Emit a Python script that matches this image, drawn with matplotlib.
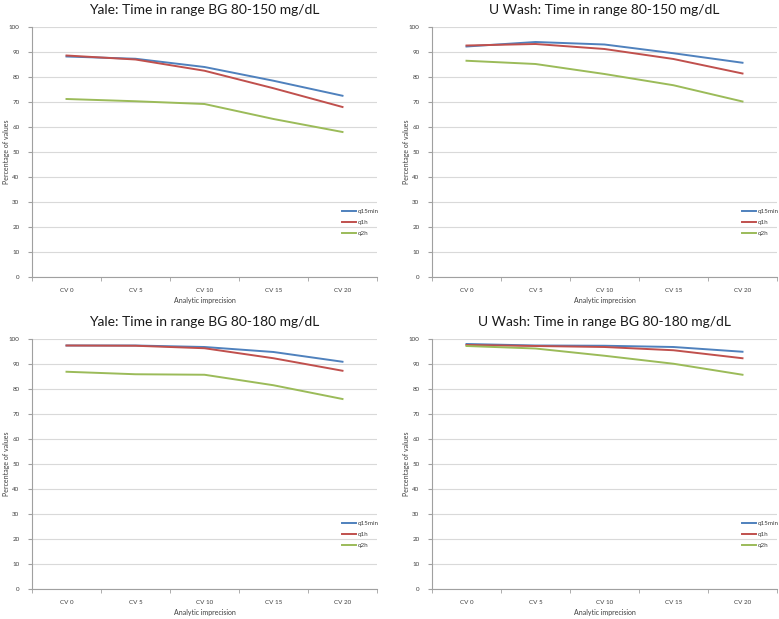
import matplotlib.pyplot as plt
import numpy as np

plt.rcParams['font.family'] = ['Lato', 'DejaVu Sans']

categories = ["CV 0", "CV 5", "CV 10", "CV 15", "CV 20"]
series_names = ["q15min", "q1h", "q2h"]
colors = ["#4F81BD", "#C0504D", "#9BBB59"]

titles = [
    "Yale: Time in range BG 80-150 mg/dL",
    "U Wash: Time in range 80-150 mg/dL",
    "Yale: Time in range BG 80-180 mg/dL",
    "U Wash: Time in range BG 80-180 mg/dL",
]

# Yale, 80-150
yale_150_q15min = [88.2, 87.3, 84.0, 78.5, 72.5]
yale_150_q1h = [88.6, 87.0, 82.5, 75.5, 68.0]
yale_150_q2h = [71.2, 70.3, 69.2, 63.2, 58.0]

# U Wash, 80-150
uwash_150_q15min = [92.2, 94.0, 93.0, 89.5, 85.7]
uwash_150_q1h = [92.6, 93.2, 91.2, 87.2, 81.4]
uwash_150_q2h = [86.5, 85.2, 81.2, 76.7, 70.2]

# Yale, 80-180
yale_180_q15min = [97.4, 97.4, 96.8, 94.8, 90.9]
yale_180_q1h = [97.4, 97.3, 96.3, 92.3, 87.3]
yale_180_q2h = [86.9, 85.9, 85.7, 81.5, 76.0]

# U Wash, 80-180
uwash_180_q15min = [98.0, 97.4, 97.3, 96.8, 94.9]
uwash_180_q1h = [97.6, 97.2, 96.8, 95.5, 92.3]
uwash_180_q2h = [97.2, 96.2, 93.3, 90.1, 85.7]

panels = [
    [yale_150_q15min, yale_150_q1h, yale_150_q2h],
    [uwash_150_q15min, uwash_150_q1h, uwash_150_q2h],
    [yale_180_q15min, yale_180_q1h, yale_180_q2h],
    [uwash_180_q15min, uwash_180_q1h, uwash_180_q2h],
]

fig = plt.figure(figsize=(7.79, 6.19), dpi=100)
W, H = 779, 619
# axes boxes in pixels (left, top, right, bottom) and y-label x offset
boxes = [
    (32, 27, 377, 277, -0.064),
    (432, 27, 777, 277, -0.064),
    (32, 339, 377, 589, -0.064),
    (432, 339, 777, 589, -0.064),
]

x = np.arange(len(categories))
for box, title, data in zip(boxes, titles, panels):
    x0, y0, x1, y1, lab_x = box
    ax = fig.add_axes([x0 / W, 1 - y1 / H, (x1 - x0) / W, (y1 - y0) / H])
    for vals, name, c in zip(data, series_names, colors):
        ax.plot(x, vals, color=c, linewidth=1.4, label=name)
    ax.set_xlim(-0.5, len(categories) - 0.5)
    ax.set_ylim(0, 100)
    ax.set_yticks(np.arange(0, 101, 10))
    ax.set_xticks(x)
    ax.set_xticklabels(categories)
    ax.set_xticks(np.arange(-0.5, len(categories), 1), minor=True)
    ax.tick_params(axis='x', which='major', length=0, labelsize=4.5, colors='#404040', pad=8)
    ax.tick_params(axis='x', which='minor', length=3, color='#A0A0A0')
    ax.tick_params(axis='y', length=3, color='#A0A0A0', labelsize=4.5, labelcolor='#404040', pad=6)
    ax.grid(axis='y', color='#D9D9D9', linewidth=0.8)
    ax.set_axisbelow(True)
    for s in ['top', 'right']:
        ax.spines[s].set_visible(False)
    for s in ['left', 'bottom']:
        ax.spines[s].set_color('#A0A0A0')
        ax.spines[s].set_linewidth(0.8)
    ax.set_title(title, fontsize=10, color='#1a1a1a', pad=9)
    ax.set_ylabel("Percentage of values", fontsize=5, color='#404040')
    ax.yaxis.set_label_coords(lab_x, 0.5)
    ax.set_xlabel("Analytic imprecision", fontsize=5, color='#404040', labelpad=3)
    ax.legend(loc='lower right', bbox_to_anchor=(1.02, 0.14), frameon=False,
              fontsize=4.5, handlelength=2.2, handletextpad=0.2, labelspacing=0.9,
              labelcolor='#404040')

fig.savefig("out.png", dpi=100, facecolor='white')
